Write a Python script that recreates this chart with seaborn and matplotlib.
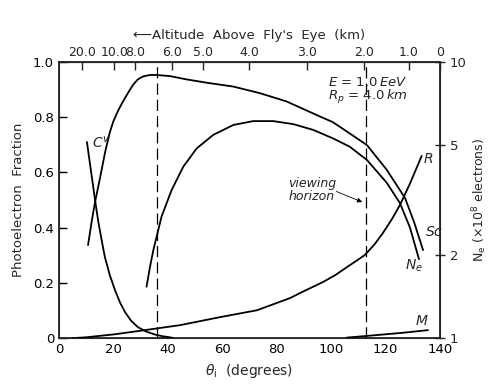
import numpy as np
import pandas as pd
import matplotlib
matplotlib.use("Agg")
import matplotlib.pyplot as plt
import seaborn as sns

# --- data ---
# Cherenkov fraction C^v
cv_theta = [10.3, 11.5, 12.5, 13.5, 14.5, 15.6, 16.9, 18.7, 20.6, 22.4, 24.3, 26.5, 29.0, 32.0, 35.3, 38.0, 40.8, 41.8]
cv_frac = [0.71, 0.625, 0.555, 0.485, 0.42, 0.36, 0.293, 0.228, 0.174, 0.13, 0.094, 0.063, 0.040, 0.024, 0.013, 0.007, 0.003, 0.001]

# scintillation fraction Sc
sc_theta = [10.7, 12.0, 13.2, 15.1, 17.0, 18.7, 20.0, 21.8, 23.6, 25.5, 27.3, 29.0, 31.0, 33.5, 35.9,
            40.8, 46.9, 54.3, 64.1, 73.9, 83.7, 94.7, 100.7, 106.9, 113.2, 120.5, 127.2, 130.5, 133.8]
sc_frac = [0.337, 0.42, 0.489, 0.58, 0.675, 0.745, 0.785, 0.825, 0.858, 0.89, 0.918, 0.937, 0.948, 0.953, 0.953,
           0.949, 0.937, 0.925, 0.911, 0.887, 0.857, 0.808, 0.782, 0.741, 0.699, 0.609, 0.507, 0.42, 0.319]

# Rayleigh fraction R
r_theta = [5.0, 10.0, 20.6, 31.6, 44.5, 59.2, 72.8, 84.9, 90.0, 97.0, 101.5, 105.8, 109.0, 112.4,
           116.0, 119.0, 122.3, 125.3, 129.0, 133.3]
r_frac = [0.0, 0.003, 0.014, 0.029, 0.047, 0.076, 0.101, 0.145, 0.17, 0.203, 0.228, 0.257, 0.278, 0.301,
          0.340, 0.380, 0.43, 0.482, 0.56, 0.66]

# Mie fraction M
m_theta = [105.8, 112.0, 119.0, 127.0, 135.6]
m_frac = [0.002, 0.007, 0.013, 0.020, 0.029]

# shower size Ne (x10^8 electrons, right log axis)
ne_theta = [32.2, 33.5, 34.7, 37.7, 41.4, 45.7, 50.6, 56.7, 64.1, 71.4, 78.8, 86.1, 93.5, 100.8,
            106.9, 113.2, 120.5, 125.3, 129.0, 132.3]
ne_size = [1.535, 1.82, 2.084, 2.754, 3.436, 4.178, 4.864, 5.445, 5.916, 6.109, 6.109, 5.957, 5.675, 5.284,
           4.932, 4.416, 3.648, 3.083, 2.512, 1.932]

# altitude scale on top
alt_theta = [8.5, 20.3, 28.0, 41.6, 53.1, 70.0, 91.0, 112.0, 128.6, 140.0]
alt_labels = ["20.0", "10.0", "8.0", "6.0", "5.0", "4.0", "3.0", "2.0", "1.0", "0"]

dash_theta = [36.1, 112.7]

# --- figure ---
sns.set_style("white")
plt.rcParams["font.family"] = ["DejaVu Sans"]
plt.rcParams["mathtext.fontset"] = "dejavusans"

fig = plt.figure(figsize=(4.91, 3.90), dpi=100)
ax = fig.add_axes([0.120, 0.133, 0.776, 0.708])

lw = 1.3
for th, fr in [(cv_theta, cv_frac), (sc_theta, sc_frac), (r_theta, r_frac), (m_theta, m_frac)]:
    sns.lineplot(x=th, y=fr, ax=ax, color="black", linewidth=lw, sort=False, estimator=None)

for d in dash_theta:
    ax.axvline(d, color="black", linewidth=0.9, dashes=(9, 4))

ax.set_xlim(0, 140)
ax.set_ylim(0, 1.0)
ax.set_xticks(np.arange(0, 141, 20))
ax.set_yticks([0, 0.2, 0.4, 0.6, 0.8, 1.0])
ax.set_yticklabels(["0", "0.2", "0.4", "0.6", "0.8", "1.0"])
ax.tick_params(direction="in", length=6, width=1, labelsize=9.5, colors="black")
ax.set_xlabel(r"$\theta_{\rm i}$  (degrees)", fontsize=10)
ax.set_ylabel("Photoelectron  Fraction", fontsize=9.5, labelpad=6)
for s in ax.spines.values():
    s.set_color("black")
    s.set_linewidth(1.1)

ax2 = ax.twinx()
sns.lineplot(x=ne_theta, y=ne_size, ax=ax2, color="black", linewidth=lw, sort=False, estimator=None)
ax2.set_yscale("log")
ax2.set_ylim(1, 10)
ax2.set_yticks([1, 2, 5, 10])
ax2.set_yticklabels(["1", "2", "5", "10"])
ax2.minorticks_off()
ax2.tick_params(axis="y", direction="inout", length=7, width=1, labelsize=9.5)
ax2.set_ylabel(r"N$_{\rm e}$ ($\times$10$^8$ electrons)", fontsize=9, labelpad=3)

top = ax.secondary_xaxis("top")
top.set_xticks(alt_theta)
top.set_xticklabels(alt_labels)
top.tick_params(direction="in", length=6, width=1, labelsize=9, pad=2)
top.set_xlabel("\u27f5Altitude  Above  Fly's  Eye  (km)", fontsize=9.5, labelpad=5)

# curve labels and annotations
ax.text(12.2, 0.69, r"$C^v$", fontsize=10)
ax.text(133.6, 0.635, r"$R$", fontsize=10)
ax.text(134.6, 0.37, r"$Sc$", fontsize=10)
ax.text(127.3, 0.25, r"$N_e$", fontsize=10)
ax.text(131.0, 0.048, r"$M$", fontsize=10)
ax.text(113.5, 0.925, r"$E$ = $1.0\,EeV$", fontsize=9.5, ha="center", va="center")
ax.text(113.5, 0.875, r"$R_p$ = $4.0\,km$", fontsize=9.5, ha="center", va="center")
ax.text(93.0, 0.535, "viewing\nhorizon", fontsize=9, style="italic", ha="center", va="center",
        linespacing=1.0)
ax.annotate("", xy=(112.4, 0.489), xytext=(101.0, 0.535),
            arrowprops=dict(arrowstyle="-|>", color="black", lw=0.6, mutation_scale=7))

fig.savefig("out.png", dpi=100)
